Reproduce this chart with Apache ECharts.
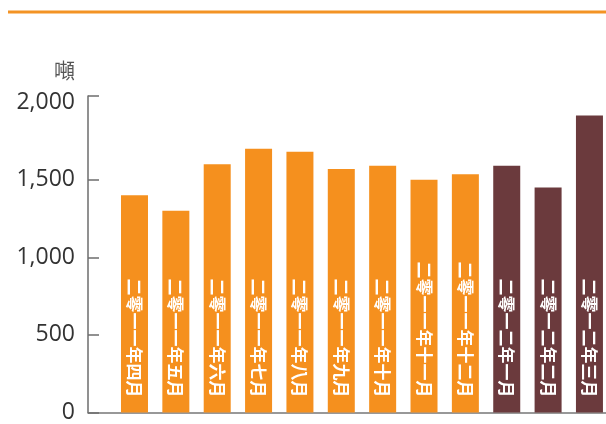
<!DOCTYPE html>
<html><head><meta charset="utf-8">
<script src="https://cdn.jsdelivr.net/npm/echarts@6/dist/echarts.min.js"></script>
<style>html,body{margin:0;padding:0;background:#fff}#c{width:606px;height:424px}</style>
</head><body><div id="c"></div>
<script>
const categories = ['二零一一年四月','二零一一年五月','二零一一年六月','二零一一年七月','二零一一年八月','二零一一年九月','二零一一年十月','二零一一年十一月','二零一一年十二月','二零一二年一月','二零一二年二月','二零一二年三月'];
const values = [1400, 1300, 1600, 1700, 1680, 1570, 1590, 1500, 1535, 1590, 1450, 1915];
const yTicks = [0, 500, 1000, 1500, 2000];
const yAxisTop = 2040;
const unit = '噸';

const ORANGE = '#F5901E', BROWN = '#6B3A3D';
const chart = echarts.init(document.getElementById('c'), null, {renderer: 'canvas'});
chart.setOption({
  animation: false,
  backgroundColor: '#fff',
  grid: {left: 88, right: 0, top: 96, bottom: 11, containLabel: false},
  graphic: [{type: 'line', shape: {x1: 8, y1: 12, x2: 606, y2: 12}, style: {stroke: '#F39325', lineWidth: 3}}],
  xAxis: {
    type: 'value', min: -1.124, max: 11.4,
    axisLine: {show: true, onZero: false, lineStyle: {color: '#777', width: 1.5}},
    axisTick: {show: false}, axisLabel: {show: false}, splitLine: {show: false}
  },
  yAxis: {
    type: 'value', min: yTicks[0], max: yAxisTop,
    name: unit, nameLocation: 'end', nameGap: 26,
    nameTextStyle: {fontSize: 21, color: '#555', fontFamily: 'Noto Sans CJK TC', align: 'right', verticalAlign: 'middle', padding: [0, 13, 0, 0]},
    axisLine: {show: true, onZero: false, lineStyle: {color: '#6d6d6d', width: 1.5}},
    axisTick: {show: true, inside: true, length: 11, customValues: yTicks.slice(0, -1).concat([yAxisTop]), lineStyle: {color: '#6d6d6d', width: 1.5}},
    axisLabel: {margin: 13, fontSize: 23, color: '#333', fontFamily: 'Open Sans', customValues: yTicks, formatter: v => v.toLocaleString('en-US')},
    splitLine: {show: false}
  },
  series: [{
    type: 'bar', barWidth: 27,
    data: values.map((v, i) => ({value: [i, v], itemStyle: {color: categories[i].startsWith('二零一二') ? BROWN : ORANGE}})),
    label: {
      show: true, position: 'insideBottom', distance: 15, rotate: -90, align: 'right', verticalAlign: 'middle',
      formatter: p => categories[p.dataIndex], color: '#fff', fontSize: 17, fontWeight: 'bold', fontFamily: 'Noto Sans CJK TC'
    }
  }]
});
</script></body></html>
